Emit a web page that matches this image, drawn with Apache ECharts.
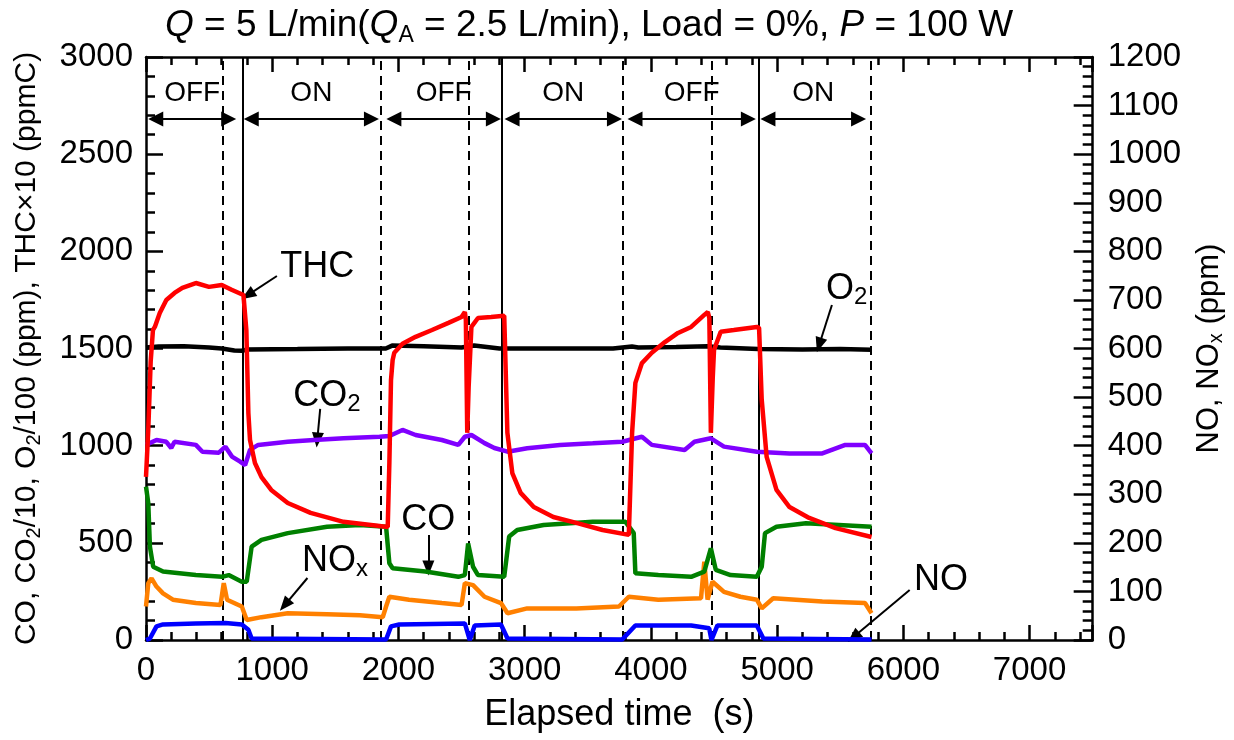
<!DOCTYPE html>
<html>
<head>
<meta charset="utf-8">
<script src="https://cdn.jsdelivr.net/npm/echarts@6/dist/echarts.min.js"></script>
<style>
  html, body { margin: 0; padding: 0; background: #fff; }
  #chart { width: 1234px; height: 740px; }
</style>
</head>
<body>
<div id="chart"></div>
<script>
// ---------- data: [elapsed time (s), value] ----------
// left axis: CO (ppm), CO2/10 (ppm), O2/100 (ppm), THC x10 (ppmC)
const thc = [[0,839],[18,1081],[37,1431],[55,1595],[70,1611],[109,1683],[161,1750],[226,1786],[288,1812],[395,1837],[499,1817],[600,1827],[678,1802],[772,1775],[785,1768],[795,1595],[811,1168],[824,1029],[863,911],[915,838],[992,772],[1123,705],[1304,654],[1565,608],[1850,587],[1915,582],[1928,911],[1941,1338],[1954,1441],[1967,1478],[2032,1524],[2136,1560],[2266,1595],[2396,1632],[2500,1662],[2526,1688],[2534,1648],[2545,1066],[2556,1300],[2578,1611],[2630,1657],[2734,1662],[2838,1668],[2853,1662],[2863,1066],[2902,859],[2968,757],[3072,684],[3227,633],[3409,603],[3617,566],[3825,541],[3839,536],[3851,1066],[3877,1323],[3929,1425],[4007,1478],[4111,1533],[4215,1580],[4319,1611],[4423,1673],[4451,1688],[4463,1657],[4475,1066],[4490,1350],[4500,1492],[4553,1586],[4657,1595],[4839,1611],[4857,1606],[4878,1236],[4917,942],[4995,772],[5098,684],[5254,628],[5463,576],[5748,530]];
const o2 = [[0,1505],[100,1510],[300,1512],[500,1505],[600,1500],[700,1490],[760,1488],[800,1495],[1200,1497],[1600,1500],[1900,1500],[1950,1515],[2200,1512],[2500,1505],[2600,1515],[2800,1500],[3200,1500],[3700,1500],[3850,1510],[3900,1505],[4200,1508],[4450,1512],[4550,1505],[4850,1498],[5200,1495],[5500,1497],[5748,1493]];
const co2 = [[0,1004],[83,1029],[161,1020],[200,988],[226,1020],[395,1004],[447,969],[577,964],[629,995],[681,944],[746,918],[785,900],[824,978],[889,1004],[1123,1020],[1331,1029],[1565,1038],[1850,1046],[1928,1050],[2032,1081],[2136,1055],[2344,1029],[2474,1004],[2526,1046],[2578,1055],[2682,1013],[2760,988],[2864,969],[3020,987],[3280,1004],[3539,1012],[3773,1020],[3929,1046],[4007,1004],[4267,978],[4345,1020],[4475,1038],[4579,995],[4839,969],[5098,960],[5358,960],[5540,1004],[5696,1004],[5748,960]];
const co = [[0,789],[18,705],[31,481],[57,377],[135,352],[395,334],[603,325],[655,334],[759,300],[798,300],[837,481],[915,515],[1123,550],[1434,583],[1694,592],[1902,583],[1928,395],[1954,369],[2214,352],[2474,325],[2526,334],[2552,497],[2591,377],[2630,334],[2838,325],[2877,532],[2941,566],[3150,592],[3539,608],[3799,608],[3864,550],[3877,343],[4059,334],[4319,325],[4423,352],[4475,472],[4514,361],[4631,334],[4839,325],[4878,377],[4904,550],[4995,583],[5229,601],[5748,583]];
// right axis: NO, NOx (ppm)
const nox = [[0,69],[18,117],[44,127],[83,110],[135,96],[213,83],[395,76],[590,72],[616,117],[642,83],[759,69],[798,41],[915,47],[1123,55],[1434,53],[1694,51],[1876,47],[1902,69],[1928,89],[2084,83],[2344,76],[2500,72],[2526,117],[2591,113],[2682,89],[2812,76],[2864,55],[3020,65],[3409,65],[3747,69],[3825,89],[4059,83],[4397,86],[4423,161],[4449,83],[4488,120],[4579,99],[4709,89],[4839,83],[4878,65],[4969,86],[5358,79],[5696,76],[5748,55]];
const no = [[0,0],[31,3],[83,28],[135,32],[395,34],[629,35],[759,32],[811,21],[837,3],[1902,1],[1941,28],[2006,32],[2526,34],[2565,0],[2604,30],[2812,32],[2864,3],[3773,1],[3877,30],[4319,30],[4462,24],[4480,0],[4527,30],[4839,30],[4891,3],[5748,1]];

// plasma switching: time (s) and line kind
const switchTimes = [608, 766, 1863, 2559, 2820, 3779, 4480, 4851, 5740];
const switchDashed = [true, false, true, true, false, true, true, false, true];

// OFF / ON periods: arrowhead centres (s) and labels
const periodLabels = ['OFF', 'ON', 'OFF', 'ON', 'OFF', 'ON'];
const periodStart = [77, 834, 1964, 2900, 3874, 4927];
const periodEnd = [655, 1786, 2752, 3711, 4772, 5645];
const periodArrowY = 2681;
const periodLabelY = 2815;

// curve annotations: text, text anchor, arrow tail, arrow head (data coords, left axis)
const annoText = ['THC', 'O{s|2}', 'CO{s|2}', 'CO', 'NO{s|x}', 'NO'];
const annoAt = [[1357, 1919], [5551, 1806], [1434, 1256], [2237, 617], [1497, 407], [6299, 309]];
const annoFrom = [[1037, 1873], [5434, 1724], [1380, 1189], [2237, 540], [1279, 319], [6050, 257]];
const annoTo = [[806, 1775], [5333, 1518], [1357, 1029], [2237, 370], [1099, 180], [5605, 15]];

const FONT = '"Liberation Sans", Arial, sans-serif';
const sub = (size) => ({ fontSize: size, lineHeight: Math.round(size * 0.72), verticalAlign: 'bottom', fontFamily: FONT, color: '#000' });

var chart = echarts.init(document.getElementById('chart'));

const tickStyle = { color: '#000', width: 2.5 };

function xAxisOf(position, interval, major) {
  return {
    type: 'value', position: position, min: 0, max: 7500, interval: interval,
    axisLine: { show: major, onZero: false, lineStyle: { color: '#000', width: 2.5 } },
    axisTick: { show: true, inside: true, length: major ? 15 : 8, lineStyle: tickStyle },
    axisLabel: {
      show: major && position === 'bottom', margin: 14, fontSize: 33, color: '#000', fontFamily: FONT,
      formatter: v => (v % 1000 === 0 ? String(v) : '')
    },
    splitLine: { show: false },
    name: major && position === 'bottom' ? 'Elapsed time  (s)' : '',
    nameLocation: 'middle', nameGap: 57,
    nameTextStyle: { fontSize: 36, color: '#000', fontFamily: FONT }
  };
}

// vertical switch lines
const switchMarks = switchTimes.map((t, i) => ({
  xAxis: t,
  lineStyle: { color: '#000', width: 2, type: switchDashed[i] ? [9, 6] : 'solid' }
}));
// OFF/ON double arrows
const periodMarks = periodStart.map((t, i) => [
  { coord: [t, periodArrowY] },
  { coord: [periodEnd[i], periodArrowY] }
]);
// single arrows pointing at the curves
const annoMarks = annoFrom.map((p, i) => [{ coord: p }, { coord: annoTo[i] }]);

const textMarks = periodLabels.map((s, i) => ({
  coord: [(periodStart[i] + periodEnd[i]) / 2, periodLabelY],
  label: { formatter: s, fontSize: 28 }
}));
annoText.forEach((s, i) => {
  textMarks.push({ coord: annoAt[i], label: { formatter: s, fontSize: 36, lineHeight: 40 } });
});

function curve(name, data, color, yIndex) {
  return {
    name: name, type: 'line', data: data, yAxisIndex: yIndex,
    showSymbol: false, symbol: 'none', z: 3,
    lineStyle: { color: color, width: 4.5 }, silent: true
  };
}

function markSeries(name, symbols, size, marks) {
  return {
    name: name, type: 'line', data: [], yAxisIndex: 0, silent: true,
    markLine: {
      silent: true, z: 1, animation: false,
      symbol: symbols,
      symbolSize: size,
      label: { show: false },
      lineStyle: { color: '#000', width: 2, type: 'solid' },
      itemStyle: { color: '#000' },
      emphasis: { disabled: true },
      data: marks
    }
  };
}

const option = {
  animation: false,
  backgroundColor: '#fff',
  title: {
    text: '{i|Q} = 5 L/min({i|Q}{s|A} = 2.5 L/min), Load = 0%, {i|P} = 100 W',
    left: 160, top: 0,
    textStyle: {
      fontSize: 37, fontWeight: 'normal', color: '#000', fontFamily: FONT, lineHeight: 42,
      rich: { i: { fontSize: 37, fontStyle: 'italic', fontFamily: FONT, color: '#000', lineHeight: 42 }, s: sub(23) }
    }
  },
  grid: { left: 146, right: 126, top: 57, bottom: 100 },
  xAxis: [
    xAxisOf('bottom', 1000, true),
    xAxisOf('top', 1000, true),
    xAxisOf('bottom', 200, false),
    xAxisOf('top', 200, false)
  ],
  yAxis: [
    {
      type: 'value', position: 'left', min: 0, max: 3000, interval: 500,
      axisLine: { show: true, onZero: false, lineStyle: { color: '#000', width: 2.5 } },
      axisTick: { inside: true, length: 17, lineStyle: tickStyle },
      minorTick: { show: true, splitNumber: 5, length: 9, lineStyle: tickStyle },
      axisLabel: { margin: 13, fontSize: 33, color: '#000', fontFamily: FONT, formatter: v => String(v) },
      splitLine: { show: false },
      name: 'CO, CO{s|2}/10, O{s|2}/100 (ppm), THC×10 (ppmC)',
      nameLocation: 'middle', nameGap: 102,
      nameTextStyle: { fontSize: 30, lineHeight: 34, color: '#000', fontFamily: FONT, rich: { s: sub(20) } }
    },
    {
      type: 'value', position: 'right', min: 0, max: 1200, interval: 100,
      axisLine: { show: true, onZero: false, lineStyle: { color: '#000', width: 2.5 } },
      axisTick: { inside: true, length: 19, lineStyle: tickStyle },
      minorTick: { show: true, splitNumber: 5, length: 10, lineStyle: tickStyle },
      axisLabel: { margin: 15, fontSize: 33, color: '#000', fontFamily: FONT, formatter: v => String(v) },
      splitLine: { show: false },
      name: 'NO, NO{s|x} (ppm)',
      nameLocation: 'middle', nameGap: 84,
      nameTextStyle: { fontSize: 31, lineHeight: 34, color: '#000', fontFamily: FONT, rich: { s: sub(20) } }
    }
  ],
  series: [
    markSeries('switch', ['none', 'none'], 10, switchMarks),
    markSeries('periods', ['triangle', 'triangle'], 15, periodMarks),
    Object.assign(markSeries('anno', ['none', 'triangle'], [12, 15], annoMarks), {
      markPoint: {
        silent: true, symbol: 'circle', symbolSize: 1,
        itemStyle: { color: 'rgba(0,0,0,0)' },
        label: { show: true, position: 'inside', color: '#000', fontFamily: FONT, rich: { s: sub(24) } },
        data: textMarks
      }
    }),
    curve('NO', no, '#0000ff', 1),
    curve('NOx', nox, '#ff8000', 1),
    curve('CO', co, '#008000', 0),
    curve('CO2/10', co2, '#8000ff', 0),
    curve('O2/100', o2, '#000000', 0),
    curve('THCx10', thc, '#ff0000', 0)
  ]
};

chart.setOption(option);
</script>
</body>
</html>
